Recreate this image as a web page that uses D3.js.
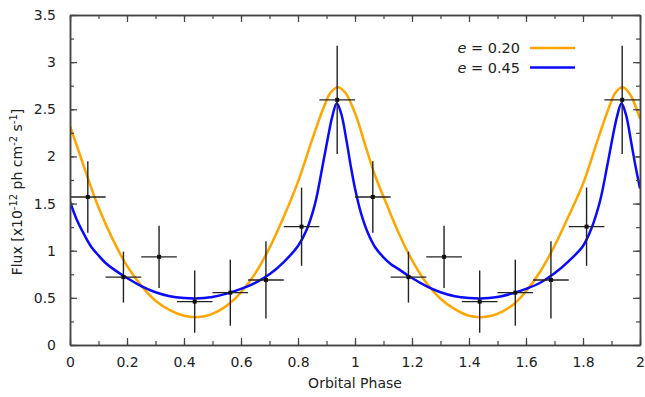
<!DOCTYPE html>
<html>
<head>
<meta charset="utf-8">
<script src="https://cdn.jsdelivr.net/npm/d3@7"></script>
<style>
  body { margin: 0; background: #fff; }
  text { font-family: Tahoma, 'DejaVu Sans', sans-serif; fill: #222; }
</style>
</head>
<body>
<div id="chart"></div>
<script>
// observed data (two phase cycles)
const obsPhase = [0.0625, 0.1875, 0.3125, 0.4375, 0.5625, 0.6875, 0.8125, 0.9375,
                  1.0625, 1.1875, 1.3125, 1.4375, 1.5625, 1.6875, 1.8125, 1.9375];
const obsFlux = [1.57, 0.72, 0.935, 0.46, 0.555, 0.69, 1.255, 2.60,
                 1.57, 0.72, 0.935, 0.46, 0.555, 0.69, 1.255, 2.60];
const obsFluxErr = [0.38, 0.27, 0.33, 0.33, 0.35, 0.41, 0.415, 0.575,
                    0.38, 0.27, 0.33, 0.33, 0.35, 0.41, 0.415, 0.575];
const obsPhaseErr = 0.0625;

// model curve e = 0.20
const e20Phase = [0, 0.03, 0.066, 0.1, 0.15, 0.2, 0.25, 0.3, 0.35, 0.4, 0.44, 0.48, 0.52, 0.56, 0.6,
  0.65, 0.7, 0.75, 0.8, 0.85, 0.89, 0.915, 0.94, 0.965, 1.0, 1.04, 1.07, 1.11, 1.15, 1.2, 1.25, 1.3,
  1.35, 1.4, 1.44, 1.48, 1.52, 1.56, 1.6, 1.65, 1.7, 1.75, 1.8, 1.85, 1.89, 1.915, 1.94, 1.965, 2.0];
const e20Flux = [2.32, 2.06, 1.74, 1.46, 1.12, 0.84, 0.63, 0.47, 0.37, 0.31, 0.295, 0.31, 0.36, 0.44, 0.56,
  0.76, 1.03, 1.36, 1.73, 2.18, 2.52, 2.68, 2.735, 2.68, 2.46, 2.08, 1.80, 1.50, 1.21, 0.90, 0.66, 0.49,
  0.38, 0.31, 0.295, 0.31, 0.36, 0.44, 0.57, 0.78, 1.05, 1.37, 1.71, 2.16, 2.51, 2.68, 2.735, 2.66, 2.40];

// model curve e = 0.45
const e45Phase = [0, 0.025, 0.05, 0.075, 0.1, 0.125, 0.15, 0.2, 0.25, 0.3, 0.35, 0.4, 0.44, 0.5, 0.55,
  0.6, 0.65, 0.7, 0.75, 0.8, 0.83, 0.86, 0.885, 0.905, 0.92, 0.936, 0.952, 0.97, 0.985, 1.0, 1.02, 1.045,
  1.07, 1.1, 1.125, 1.15, 1.2, 1.25, 1.3, 1.35, 1.4, 1.44, 1.5, 1.55, 1.6, 1.65, 1.7, 1.75, 1.8, 1.83,
  1.86, 1.885, 1.905, 1.92, 1.935, 1.951, 1.968, 1.984, 2.0];
const e45Flux = [1.52, 1.32, 1.17, 1.04, 0.95, 0.87, 0.81, 0.71, 0.625, 0.56, 0.518, 0.498, 0.493, 0.51,
  0.545, 0.595, 0.66, 0.75, 0.88, 1.05, 1.22, 1.50, 1.88, 2.20, 2.42, 2.565, 2.45, 2.17, 1.90, 1.66, 1.41,
  1.19, 1.04, 0.93, 0.86, 0.81, 0.71, 0.625, 0.56, 0.518, 0.498, 0.493, 0.51, 0.545, 0.595, 0.66, 0.76,
  0.89, 1.05, 1.24, 1.53, 1.90, 2.22, 2.43, 2.565, 2.44, 2.17, 1.90, 1.66];

const xTicks = [0, 0.2, 0.4, 0.6, 0.8, 1, 1.2, 1.4, 1.6, 1.8, 2];
const yTicks = [0, 0.5, 1, 1.5, 2, 2.5, 3, 3.5];

const width = 645, height = 397;
const margin = { top: 15, right: 5, bottom: 52, left: 70 };

const svg = d3.select('#chart').append('svg')
  .attr('width', width)
  .attr('height', height);

const x = d3.scaleLinear().domain([0, 2]).range([margin.left, width - margin.right]);
const y = d3.scaleLinear().domain([0, 3.5]).range([height - margin.bottom, margin.top]);

// clip for model curves
svg.append('clipPath').attr('id', 'plotclip')
  .append('rect')
  .attr('x', margin.left).attr('y', margin.top)
  .attr('width', x(2) - x(0)).attr('height', y(0) - y(3.5));

const line = d3.line()
  .x(d => x(d[0]))
  .y(d => y(d[1]))
  .curve(d3.curveCatmullRom.alpha(0.5));

const curves = [
  { label: '0.20', color: '#ffa500', phase: e20Phase, flux: e20Flux },
  { label: '0.45', color: '#0a0aff', phase: e45Phase, flux: e45Flux }
];

const plot = svg.append('g').attr('clip-path', 'url(#plotclip)');

curves.forEach(c => {
  plot.append('path')
    .datum(c.phase.map((p, i) => [p, c.flux[i]]))
    .attr('fill', 'none')
    .attr('stroke', c.color)
    .attr('stroke-width', 2.5)
    .attr('d', line);
});

// error bars
const pts = obsPhase.map((p, i) => ({ p: p, f: obsFlux[i], e: obsFluxErr[i] }));
const bars = svg.append('g').attr('stroke', '#222').attr('stroke-width', 1.4);

bars.selectAll('line.h').data(pts).enter().append('line')
  .attr('x1', d => x(d.p - obsPhaseErr)).attr('x2', d => x(d.p + obsPhaseErr))
  .attr('y1', d => y(d.f)).attr('y2', d => y(d.f));

bars.selectAll('line.v').data(pts).enter().append('line')
  .attr('x1', d => x(d.p)).attr('x2', d => x(d.p))
  .attr('y1', d => y(d.f - d.e)).attr('y2', d => y(d.f + d.e));

svg.append('g').selectAll('rect').data(pts).enter().append('rect')
  .attr('x', d => x(d.p) - 2).attr('y', d => y(d.f) - 2)
  .attr('width', 4).attr('height', 4)
  .attr('fill', '#111');

// axes: ticks inward on all four sides
const fmt = d => String(+d.toFixed(1));
const xMinor = d3.range(0, 2.001, 0.1);
const yMinor = d3.range(0, 3.501, 0.25);

const axisGroups = [];
function addAxis(axis, tx, ty) {
  const g = svg.append('g').attr('transform', `translate(${tx},${ty})`).call(axis);
  axisGroups.push(g);
}

addAxis(d3.axisBottom(x).tickValues(xTicks).tickFormat(fmt).tickSizeInner(-7).tickSizeOuter(0).tickPadding(12), 0, y(0));
addAxis(d3.axisBottom(x).tickValues(xMinor).tickFormat('').tickSizeInner(-4).tickSizeOuter(0), 0, y(0));
addAxis(d3.axisTop(x).tickValues(xTicks).tickFormat('').tickSizeInner(-7).tickSizeOuter(0), 0, y(3.5));
addAxis(d3.axisTop(x).tickValues(xMinor).tickFormat('').tickSizeInner(-4).tickSizeOuter(0), 0, y(3.5));
addAxis(d3.axisLeft(y).tickValues(yTicks).tickFormat(fmt).tickSizeInner(-7).tickSizeOuter(0).tickPadding(14), x(0), 0);
addAxis(d3.axisLeft(y).tickValues(yMinor).tickFormat('').tickSizeInner(-4).tickSizeOuter(0), x(0), 0);
addAxis(d3.axisRight(y).tickValues(yTicks).tickFormat('').tickSizeInner(-7).tickSizeOuter(0), x(2), 0);
addAxis(d3.axisRight(y).tickValues(yMinor).tickFormat('').tickSizeInner(-4).tickSizeOuter(0), x(2), 0);

axisGroups.forEach(g => {
  g.select('.domain').attr('stroke', '#444').attr('stroke-width', 1.5);
  g.selectAll('.tick line').attr('stroke', '#444').attr('stroke-width', 1.2);
  g.selectAll('.tick text').style('font-size', '14px').attr('fill', '#222');
});

// axis titles
svg.append('text')
  .attr('x', (x(0) + x(2)) / 2).attr('y', 388)
  .attr('text-anchor', 'middle')
  .style('font-size', '14px')
  .text('Orbital Phase');

const yt = svg.append('text')
  .attr('transform', `translate(22,${(y(0) + y(3.5)) / 2 + 12}) rotate(-90)`)
  .attr('text-anchor', 'middle')
  .style('font-size', '14px');
yt.append('tspan').text('Flux [x10');
yt.append('tspan').attr('dy', -5).style('font-size', '10px').text('-12');
yt.append('tspan').attr('dy', 5).text(' ph cm');
yt.append('tspan').attr('dy', -5).style('font-size', '10px').text('-2');
yt.append('tspan').attr('dy', 5).text(' s');
yt.append('tspan').attr('dy', -5).style('font-size', '10px').text('-1');
yt.append('tspan').attr('dy', 5).text(']');

// legend
const legend = svg.append('g');
curves.forEach((c, i) => {
  const ly = 48 + i * 19.5;
  const t = legend.append('text')
    .attr('x', 520).attr('y', ly + 5)
    .attr('text-anchor', 'end')
    .style('font-size', '14.5px');
  t.append('tspan').style('font-style', 'italic').text('e');
  t.append('tspan').text(' = ' + c.label);
  legend.append('line')
    .attr('x1', 530).attr('x2', 575)
    .attr('y1', ly).attr('y2', ly)
    .attr('stroke', c.color).attr('stroke-width', 2.5);
});
</script>
</body>
</html>
